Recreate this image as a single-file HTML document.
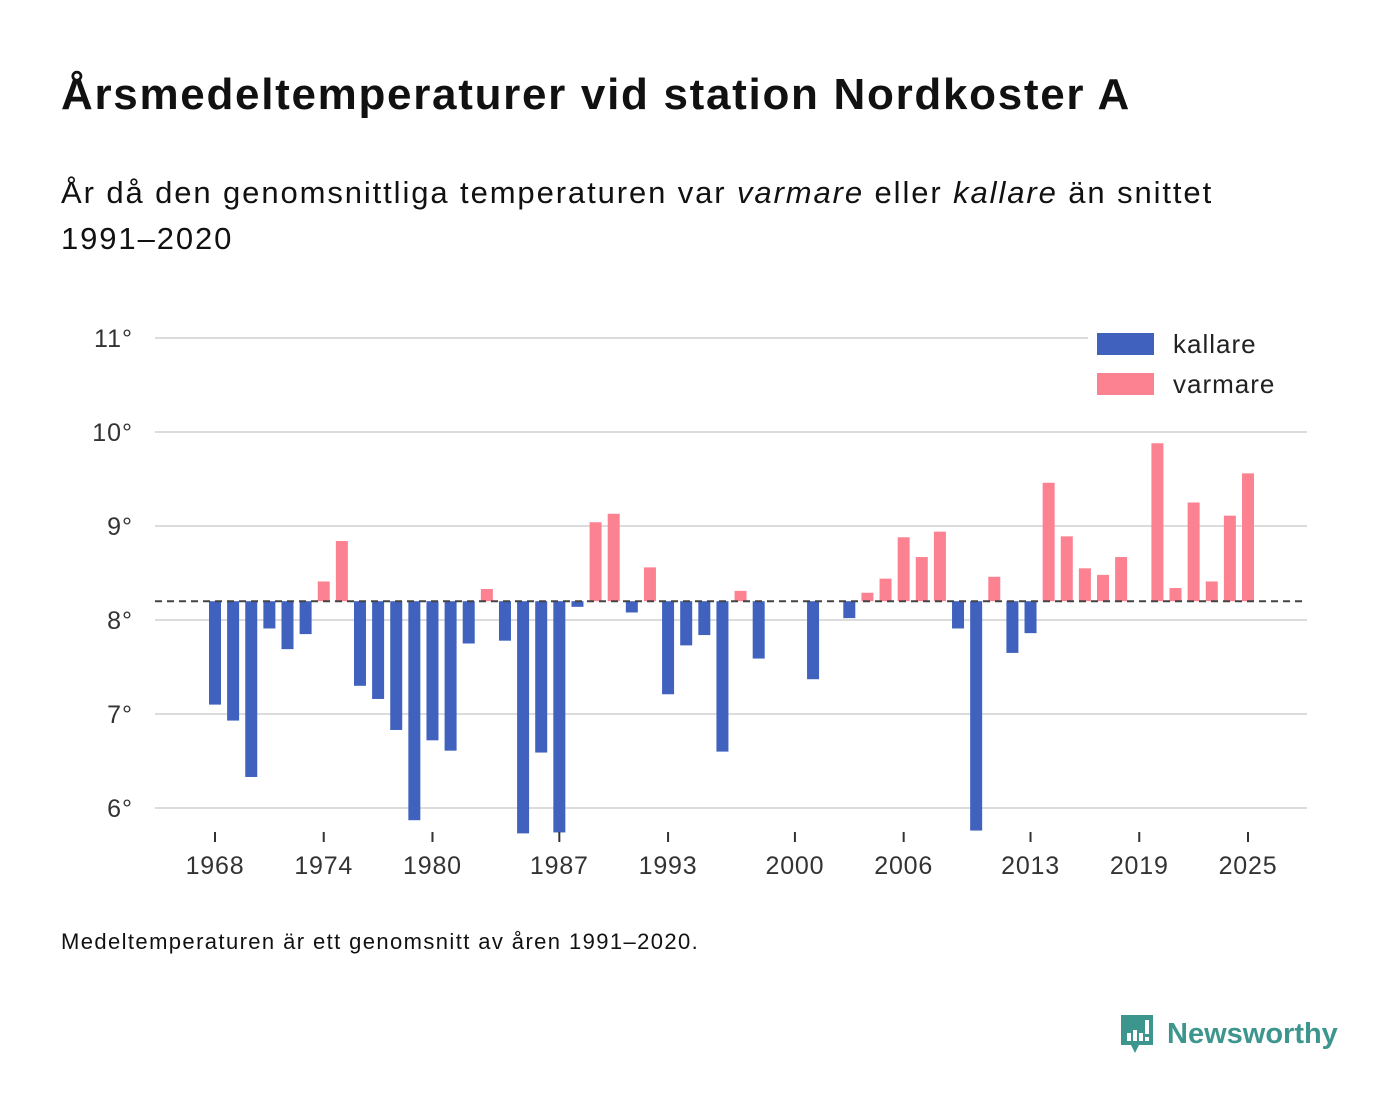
<!DOCTYPE html>
<html><head><meta charset="utf-8"><style>
body{margin:0;background:#fff;font-family:"Liberation Sans",sans-serif;color:#111;}
#wrap{position:relative;width:1400px;height:1116px;overflow:hidden;}
h1{position:absolute;left:61px;top:70px;margin:0;font-size:44px;letter-spacing:1.7px;font-weight:bold;white-space:nowrap;}
.sub{position:absolute;left:61px;top:170px;font-size:31px;letter-spacing:1.9px;line-height:46px;margin:0;width:1210px;}
.note{position:absolute;left:61px;top:929px;font-size:22px;letter-spacing:1.4px;}
.logo{position:absolute;left:1119px;top:1013px;display:flex;align-items:center;}
.logo span{font-size:29px;font-weight:bold;color:#3d968d;margin-left:12px;}
</style></head><body><div id="wrap">
<h1>Årsmedeltemperaturer vid station Nordkoster A</h1>
<p class="sub">År då den genomsnittliga temperaturen var <i>varmare</i> eller <i>kallare</i> än snittet 1991–2020</p>
<svg id="chart" width="1400" height="1116" style="position:absolute;left:0;top:0"></svg>
<div class="note">Medeltemperaturen är ett genomsnitt av åren 1991–2020.</div>
<div class="logo">
<svg width="36" height="42" viewBox="0 0 36 42"><path d="M2 2h32v30H20l-4 8-4-8H2z" fill="#3d968d"/><rect x="8" y="20" width="4" height="8" fill="#fff"/><rect x="14" y="17" width="4" height="11" fill="#fff"/><rect x="20" y="20" width="4" height="8" fill="#fff"/><rect x="26" y="7" width="4" height="14" fill="#fff"/><rect x="26" y="24" width="4" height="4" fill="#fff"/></svg>
<span>Newsworthy</span></div>
</div>
<script>
const firstYear = 1968;
const temps = [7.10,6.93,6.33,7.91,7.69,7.85,8.41,8.84,7.30,7.16,6.83,5.87,6.72,6.61,7.75,8.33,7.78,5.73,6.59,5.74,8.14,9.04,9.13,8.08,8.56,7.21,7.73,7.84,6.60,8.31,7.59,null,null,7.37,null,8.02,8.29,8.44,8.88,8.67,8.94,7.91,5.76,8.46,7.65,7.86,9.46,8.89,8.55,8.48,8.67,null,9.88,8.34,9.25,8.41,9.11,9.56];
const average = 8.2;
const yTicks = [6,7,8,9,10,11];
const xTicks = [1968,1974,1980,1987,1993,2000,2006,2013,2019,2025];
const NS='http://www.w3.org/2000/svg';
const svg=document.getElementById('chart');
const y=v=>620-(v-8)*94;
const x=yr=>215+(yr-1968)*(1033/57);
function mk(t,a){const e=document.createElementNS(NS,t);for(const k in a)e.setAttribute(k,a[k]);svg.appendChild(e);return e;}
yTicks.forEach(v=>{
 const g=mk('line',{x1:155,x2:1307,y1:y(v),y2:y(v),stroke:'#dcdcdc','stroke-width':2});
 
 
 const t=mk('text',{x:133,y:y(v)+9,'text-anchor':'end','font-size':25,'letter-spacing':1,fill:'#333','font-family':'Liberation Sans, sans-serif'});
 t.textContent=v+'°';
 
 
});
temps.forEach((v,i)=>{
 if(v==null)return;
 const yr=firstYear+i;
 const top=Math.min(y(v),y(average)),h=Math.abs(y(v)-y(average));
 const r=mk('rect',{x:x(yr)-6,y:top,width:12,height:h,fill:v<average?'#4062be':'#fd8291'});
 
 
});
const avg=mk('line',{x1:155,x2:1307,y1:y(average),y2:y(average),stroke:'#444','stroke-width':2,'stroke-dasharray':'7,5'});


xTicks.forEach(yr=>{
 const l=mk('line',{x1:x(yr),x2:x(yr),y1:832,y2:842,stroke:'#333','stroke-width':2});
 
 
 const t=mk('text',{x:x(yr),y:874,'text-anchor':'middle','font-size':25,'letter-spacing':0.8,fill:'#333','font-family':'Liberation Sans, sans-serif'});
 t.textContent=yr;
 
 
});
const lg=mk('rect',{x:1088,y:325,width:220,height:85,fill:'#fff'});


[['kallare','#4062be',344],['varmare','#fd8291',384]].forEach(([n,c,yy])=>{
 const r=mk('rect',{x:1097,y:yy-11,width:57,height:22,fill:c});
 
 
 const t=mk('text',{x:1173,y:yy+9,'font-size':26,'letter-spacing':1,fill:'#222','font-family':'Liberation Sans, sans-serif'});
 t.textContent=n;
 
 
});
</script>
</body></html>
